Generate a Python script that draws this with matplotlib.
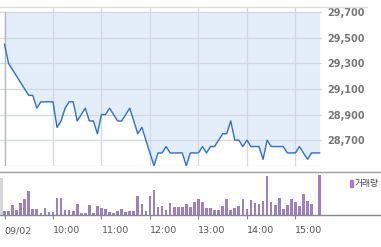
import matplotlib.pyplot as plt
from matplotlib.lines import Line2D
from matplotlib.patches import Rectangle

# 5-minute bars, 09:00 .. 15:30 (minutes after 09:00)
minutes = list(range(0, 395, 5))

prices = [29450, 29300, 29250, 29200, 29150, 29100, 29050, 29050, 28950, 29000,
          29000, 29000, 29000, 28800, 28850, 28950, 29000, 29000, 28850, 28900,
          28950, 28850, 28850, 28750, 28900, 28900, 28950, 28900, 28850, 28850,
          28900, 28950, 28850, 28750, 28800, 28700, 28600, 28500, 28600, 28600,
          28650, 28600, 28600, 28600, 28600, 28500, 28600, 28600, 28600, 28650,
          28600, 28650, 28650, 28700, 28750, 28750, 28850, 28700, 28700, 28650,
          28700, 28650, 28650, 28650, 28550, 28700, 28650, 28650, 28650, 28650,
          28600, 28600, 28600, 28650, 28600, 28550, 28600, 28600, 28600]

# volume in thousand shares
volumes = [4.5, 4.3, 10, 5, 11.7, 16, 24.3, 6, 6, 2.3,
           6.7, 2.7, 3.5, 16.7, 16.7, 5, 5, 4.5, 10.7, 1.7,
           1.7, 9.7, 2.3, 9, 6.7, 6, 3.2, 2.2, 3.8, 6.3,
           2.7, 3.7, 3.7, 19.5, 11.5, 4.3, 19, 24.7, 7.8, 8.8,
           5.2, 12, 7.6, 8.1, 8, 11.3, 8, 13, 16, 13.3,
           7, 6.7, 5.3, 5, 9, 15.7, 5.3, 7, 8.7, 15.7,
           5.7, 15.3, 11.7, 11, 14.3, 39, 13, 10.3, 16.7, 5.7,
           9.7, 16.3, 12.7, 8.7, 21, 14.3, 10.7, 0, 40]
prev_volume = 37

hour_ticks = [0, 60, 120, 180, 240, 300, 360]
hour_labels = ['09/02', '10:00', '11:00', '12:00', '13:00', '14:00', '15:00']
price_ticks = [28500, 28700, 28900, 29100, 29300, 29500, 29700]

W, H = 381, 247
fig = plt.figure(figsize=(W / 100, H / 100), dpi=100)


def box(l, t, r, b):
    return [l / W, 1 - b / H, (r - l) / W, (b - t) / H]


# pixel mapping of the time axis
x0_px, px_per_min = 4.5, 0.808

ax = fig.add_axes(box(0, 7.3, 322, 166.1))
axv = fig.add_axes(box(0, 172, 381, 215))

# price panel
ax.fill_between(minutes, prices, 29700, color='#e4eefb', lw=0, zorder=0.3)
ax.plot(minutes, prices, color='#2b6fd8', lw=1.0, zorder=3)
ax.axvline(0, ymax=(29700 - 28497) / (29739 - 28497), color='#b5b5b5', lw=1, zorder=2)

ax.set_xlim(-x0_px / px_per_min, (322 - x0_px) / px_per_min)
ax.set_ylim(28497, 29739)
ax.set_xticks(hour_ticks[1:])
ax.set_xticklabels([])
ax.set_yticks(price_ticks)
ax.set_yticklabels([''] + [f'{p:,}' for p in price_ticks[1:]],
                   fontsize=7, fontweight='bold', color='#777777')
ax.yaxis.tick_right()
ax.tick_params(axis='both', length=0)
ax.tick_params(axis='y', pad=3.6)
ax.grid(True, color='#d3d9e2', lw=0.9, zorder=1)
for s in ax.spines.values():
    s.set_visible(False)

# volume panel
axv.bar(-3.7, prev_volume, width=4.6, color='#d5d5da', lw=0)
axv.bar(minutes, volumes, width=3.3, color='#9b80c6', lw=0)
axv.set_xlim(-x0_px / px_per_min, (W - x0_px) / px_per_min)
axv.set_ylim(0, 43)
axv.set_yticks([])
axv.set_xticks(hour_ticks)
axv.set_xticklabels(hour_labels, ha='left', fontsize=6.8, color='#555555')
axv.tick_params(axis='x', length=3, color='#888888', pad=5)
axv.spines['left'].set_visible(False)
axv.spines['right'].set_visible(False)
axv.spines['top'].set_color('#a0a0a0')
axv.spines['bottom'].set_color('#888888')
axv.spines['top'].set_linewidth(1)
axv.spines['bottom'].set_linewidth(1)

# top border line
fig.add_artist(Line2D([0, 367 / W], [1 - 7.3 / H] * 2, color='#dcdcdc', lw=1))

# legend
fig.add_artist(Rectangle((350 / W, 1 - 187 / H), 3 / W, 7 / H,
                         color='#9b80c6', transform=fig.transFigure))
fig.text(355 / W, 1 - 183.5 / H, '거래량', fontsize=6.3, va='center', ha='left',
         color='#444444', family=['Noto Sans CJK KR', 'DejaVu Sans'])

fig.savefig('out.png', dpi=100)
